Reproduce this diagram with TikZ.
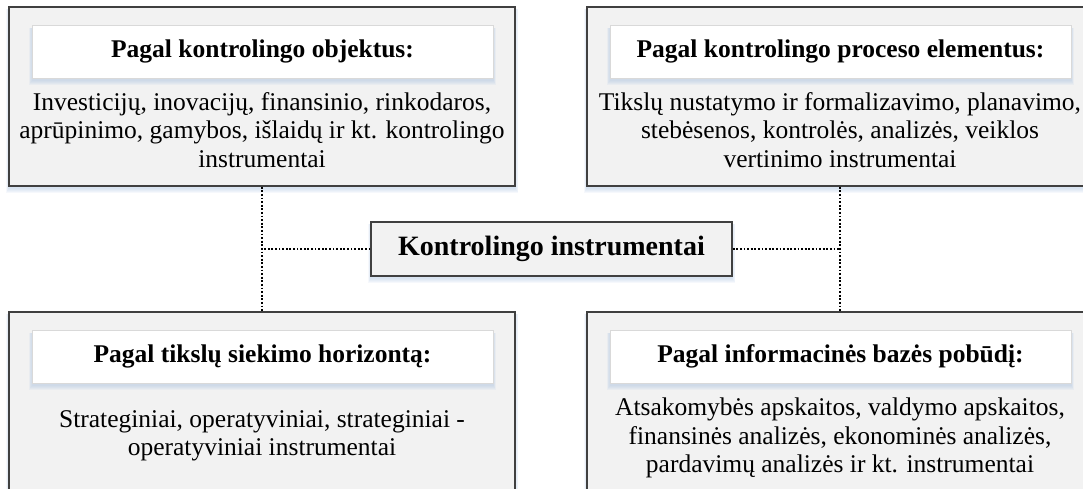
\documentclass[tikz,border=0pt]{standalone}
\usepackage{fontspec}
\setmainfont{Liberation Serif}
\usetikzlibrary{backgrounds}

\definecolor{panelfill}{HTML}{F2F2F2}
\definecolor{panelline}{HTML}{404040}
\definecolor{headline}{HTML}{D9D9D9}
\definecolor{shadowblue}{HTML}{A9C2E0}

\pgfdeclarelayer{panelshadow}
\pgfdeclarelayer{panels}
\pgfdeclarelayer{headshadow}
\pgfsetlayers{panelshadow,panels,headshadow,main}

\tikzset{
  panel/.style={draw=panelline, line width=1.4pt, fill=panelfill,
    minimum width=506pt, minimum height=179pt, inner sep=0pt},
  header/.style={draw=headline, line width=1pt, fill=white,
    minimum width=461pt, minimum height=53pt, inner sep=0pt,
    font=\fontsize{25.5}{28}\selectfont\bfseries},
  bodytext/.style={align=center, inner sep=0pt,
    font=\fontsize{25.5}{28.5}\selectfont},
  hub/.style={draw=panelline, line width=1.4pt, fill=panelfill,
    minimum width=361pt, minimum height=54pt, inner sep=0pt,
    font=\fontsize{28}{32}\selectfont\bfseries},
  link/.style={line width=1.5pt, dash pattern=on 1.8pt off 1.8pt},
}

% soft bluish shadow, mostly under a box
\newcommand\softshadow[1]{%
  \foreach \r in {0,1,2,3,4}{%
    \fill[shadowblue, opacity=0.11]
      ([xshift=-0.6*\r pt, yshift=-3pt] #1.north west) rectangle
      ([xshift=0.6*\r pt, yshift=-2pt-\r pt] #1.south east);}}

\begin{document}
\begin{tikzpicture}[x=1pt, y=-1pt]
\useasboundingbox (0,0) rectangle (1083,488);
\clip (0,0) rectangle (1083,488);

% four classification panels
\begin{pgfonlayer}{panels}
  \node[panel] (tl) at (262,96.5) {};
  \node[panel] (tr) at (840,96.5) {};
  \node[panel] (bl) at (262,401.5) {};
  \node[panel] (br) at (840,401.5) {};
\end{pgfonlayer}

% central node
\node[hub] (hub) at (551.5,249) {Kontrolingo instrumentai};

% panel headings
\node[header] (tlh) at (262.5,51.5) {Pagal kontrolingo objektus:};
\node[header] (trh) at (840.5,51.5) {Pagal kontrolingo proceso elementus:};
\node[header] (blh) at (262.5,356.5) {Pagal tikslų siekimo horizontą:};
\node[header] (brh) at (840.5,356.5) {Pagal informacinės bazės pobūdį:};

% panel contents
\node[bodytext] (tlb) at (262,130) {Investicijų, inovacijų, finansinio, rinkodaros,\\aprūpinimo, gamybos, išlaidų ir kt. kontrolingo\\instrumentai};
\node[bodytext] (trb) at (840,130) {Tikslų nustatymo ir formalizavimo, planavimo,\\stebėsenos, kontrolės, analizės, veiklos\\vertinimo instrumentai};
\node[bodytext] (blb) at (262,436) {Strateginiai, operatyviniai, strateginiai -\\operatyviniai instrumentai};
\node[bodytext] (brb) at (840,438) {Atsakomybės apskaitos, valdymo apskaitos,\\finansinės analizės, ekonominės analizės,\\pardavimų analizės ir kt. instrumentai};

% dotted connectors
\draw[link] (tl.south) -- (bl.north);
\draw[link] (tr.south) -- (br.north);
\draw[link] (hub.west) -- (hub.west -| tl.south);
\draw[link] (hub.east) -- (hub.east -| tr.south);

\begin{pgfonlayer}{panelshadow}
  \softshadow{tl}
  \softshadow{tr}
  \softshadow{bl}
  \softshadow{br}
  \softshadow{hub}
\end{pgfonlayer}
\begin{pgfonlayer}{headshadow}
  \softshadow{tlh}
  \softshadow{trh}
  \softshadow{blh}
  \softshadow{brh}
\end{pgfonlayer}
\end{tikzpicture}
\end{document}
